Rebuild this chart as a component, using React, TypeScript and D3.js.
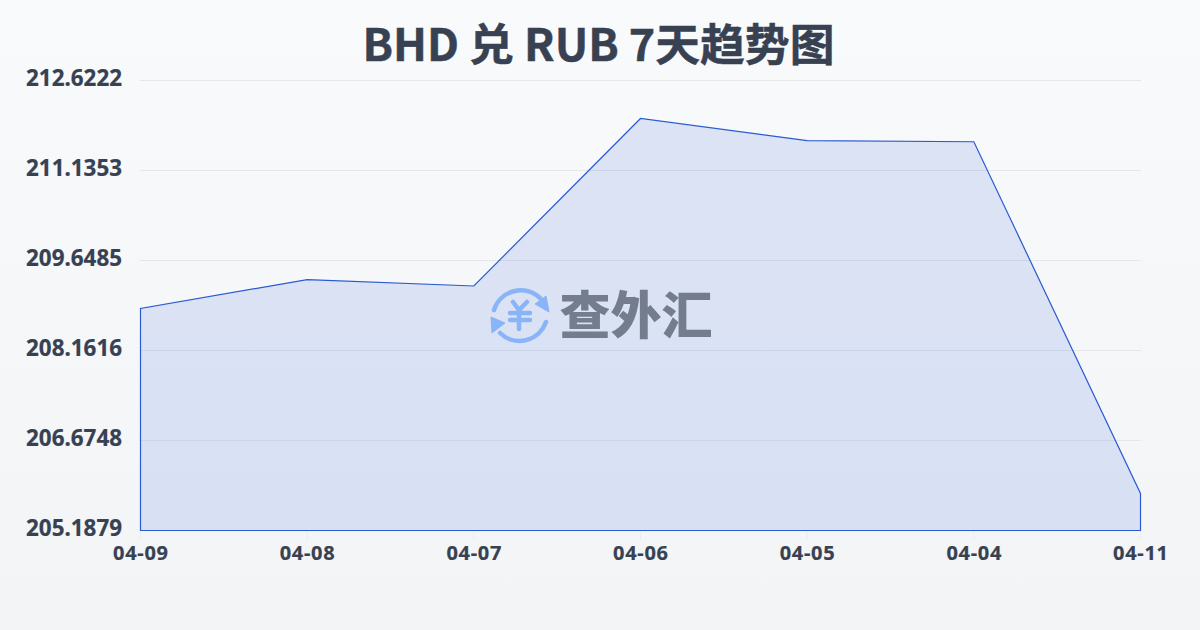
import React from "react";
import * as d3 from "d3";

const categories = ["04-09", "04-08", "04-07", "04-06", "04-05", "04-04", "04-11"];
const rates = [208.855, 209.334, 209.227, 211.995, 211.63, 211.61, 205.8];
const yTickLabels = ["212.6222", "211.1353", "209.6485", "208.1616", "206.6748", "205.1879"];
const yMin = 205.1879;
const yMax = 212.6222;

const W = 1200;
const H = 630;
const x = d3.scalePoint<string>().domain(categories).range([140.5, 1140.5]);
const y = d3.scaleLinear().domain([yMin, yMax]).range([530.5, 80.5]);
const gridYs = d3.range(6).map((i) => 80.5 + i * 90);

const pts = categories.map((c, i) => [x(c)!, y(rates[i])] as [number, number]);
const top = d3.line()(pts)!;
const area = d3.area<[number, number]>().x((d) => d[0]).y0(y(yMin)).y1((d) => d[1])(pts)!;
const latin = "'Noto Sans', 'Open Sans', sans-serif";
const cjk = "'Noto Sans CJK SC', 'Noto Sans', sans-serif";

export default function App() {
  return (
    <svg width={W} height={H} viewBox={`0 0 ${W} ${H}`} style={{ position: "absolute", left: 0, top: 0, display: "block" }}>
      <defs>
        <linearGradient id="bg" x1="0" y1="0" x2="0" y2="1">
          <stop offset="0" stopColor="#f9fafc" />
          <stop offset="1" stopColor="#f3f4f6" />
        </linearGradient>
      </defs>
      <rect width={W} height={H} fill="url(#bg)" />
      <text x={598.5} y={61} textAnchor="middle" fontFamily={cjk} fontWeight={700} fontSize={44.8} fill="#374151" stroke="#374151" strokeWidth={0.5}>BHD 兑 RUB 7天趋势图</text>
      {gridYs.map((gy) => (
        <line key={gy} x1={140} x2={1141} y1={gy} y2={gy} stroke="#e5e7eb" strokeWidth={1} />
      ))}
      {categories.map((c) => (
        <line key={c} x1={x(c)!} x2={x(c)!} y1={530} y2={540} stroke="#e5e7eb" strokeWidth={1} strokeOpacity={0.6} />
      ))}
      <path d={area} fill="#2459d6" fillOpacity={0.135} />
      <path d={`M${pts[0][0]},${y(yMin)}L${top.slice(1)}L${pts[6][0]},${y(yMin)}Z`} fill="none" stroke="#2a5bd0" strokeWidth={1.2} />
      {yTickLabels.map((t, i) => (
        <text key={t} x={122} y={gridYs[i] + 5.5} textAnchor="end" fontFamily={latin} fontWeight={700} fontSize={22.4} fill="#374151" stroke="#374151" strokeWidth={0.2}>{t}</text>
      ))}
      {categories.map((c) => (
        <text key={c} x={x(c)! + 0.4} y={560} textAnchor="middle" fontFamily={latin} fontWeight={700} fontSize={20} letterSpacing={0.7} fill="#374151" stroke="#374151" strokeWidth={0.2}>{c}</text>
      ))}
      <g>
        <g fill="none" stroke="#8ab4f8" strokeWidth={4.5} strokeLinecap="round">
          <path d="M494,310 A28,28 0 0 1 540,298" />
          <path d="M546,322 A28,28 0 0 1 500,333" />
          <path d="M513,302 L519,310 L527,302 M510,313 H530 M510,320 H530 M519,310 V329" strokeWidth={4.5} />
        </g>
        <path d="M546,296 L549,312 L535,304 Z M491,317 L492,333 L505,323 Z" fill="#8ab4f8" stroke="#8ab4f8" strokeWidth={1} strokeLinejoin="round" />
        <text x={636} y={334} textAnchor="middle" fontFamily={cjk} fontWeight={900} fontSize={51} fill="#747d8e">查外汇</text>
      </g>
    </svg>
  );
}
